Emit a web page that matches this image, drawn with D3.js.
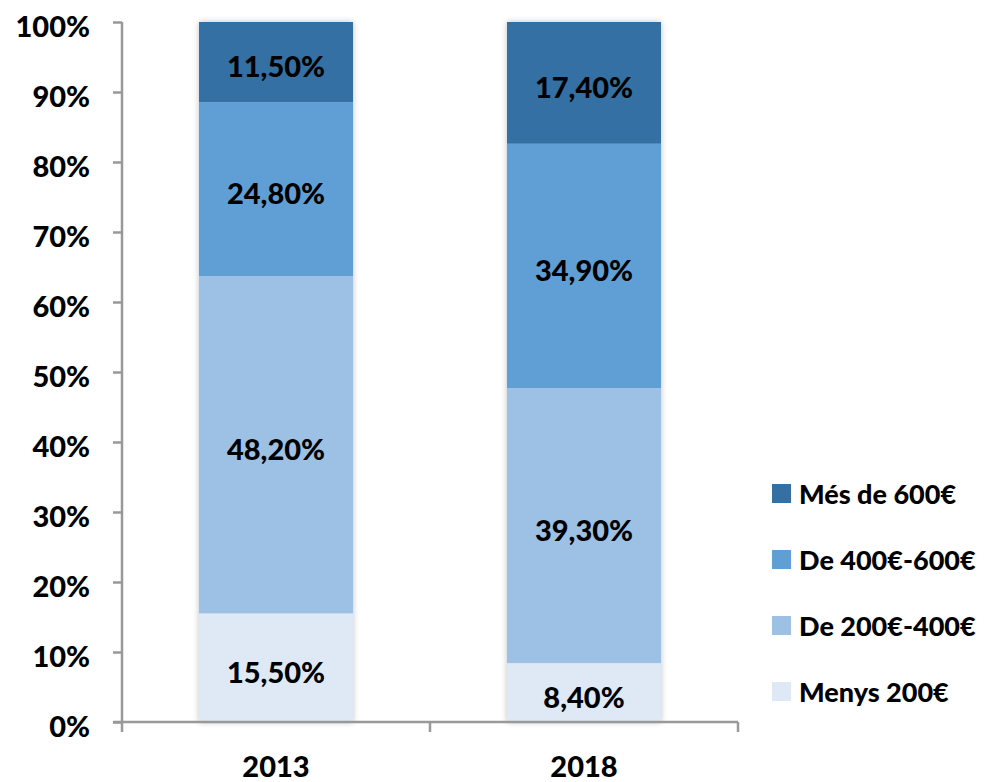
<!DOCTYPE html>
<html>
<head>
<meta charset="utf-8">
<script src="https://cdn.jsdelivr.net/npm/d3@7"></script>
<style>
  body { margin: 0; background: #fff; }
  svg text { font-family: Lato, "Open Sans", sans-serif; font-weight: 900; fill: #000; }
</style>
</head>
<body>
<div id="chart"></div>
<script>
"use strict";
const years = ["2013", "2018"];
const seriesNames = ["Menys 200€", "De 200€-400€", "De 400€-600€", "Més de 600€"];
const menys200 = [15.5, 8.4];
const de200a400 = [48.2, 39.3];
const de400a600 = [24.8, 34.9];
const mes600 = [11.5, 17.4];
const yTicks = [0, 10, 20, 30, 40, 50, 60, 70, 80, 90, 100];
const colors = ["#dee9f5", "#9dc0e5", "#609fd5", "#3470a3"];

const width = 1000, height = 782;
const plotLeft = 122, plotRight = 738, plotTop = 22, plotBottom = 722;

const svg = d3.select("#chart").append("svg")
    .attr("width", width)
    .attr("height", height);

const defs = svg.append("defs");
const shadow = defs.append("filter").attr("id", "glow")
    .attr("x", "-10%").attr("y", "-5%").attr("width", "120%").attr("height", "110%");
shadow.append("feGaussianBlur").attr("in", "SourceAlpha").attr("stdDeviation", 3).attr("result", "b");
shadow.append("feComponentTransfer").attr("in", "b").attr("result", "c")
    .append("feFuncA").attr("type", "linear").attr("slope", 0.25);
const merge = shadow.append("feMerge");
merge.append("feMergeNode").attr("in", "c");
merge.append("feMergeNode").attr("in", "SourceGraphic");

const x = d3.scaleBand().domain(years).range([plotLeft, plotRight]).paddingInner(0.5).paddingOuter(0.25);
const y = d3.scaleLinear().domain([0, 100]).range([plotBottom, plotTop]);

const rows = years.map((yr, i) => ({
    year: yr,
    "Menys 200€": menys200[i],
    "De 200€-400€": de200a400[i],
    "De 400€-600€": de400a600[i],
    "Més de 600€": mes600[i]
}));
const stacked = d3.stack().keys(seriesNames)(rows);

const fmt = v => v.toFixed(2).replace(".", ",") + "%";

// bars
const barGroup = svg.append("g");
years.forEach((yr) => {
    barGroup.append("rect")
        .attr("x", x(yr)).attr("y", y(100))
        .attr("width", x.bandwidth()).attr("height", y(0) - y(100))
        .attr("fill", "#fff")
        .attr("filter", "url(#glow)");
});
stacked.forEach((layer, k) => {
    barGroup.selectAll(null)
        .data(layer)
        .enter()
        .append("rect")
        .attr("x", d => x(d.data.year))
        .attr("y", d => y(d[1]))
        .attr("width", x.bandwidth())
        .attr("height", d => y(d[0]) - y(d[1]))
        .attr("fill", colors[k]);
    barGroup.selectAll(null)
        .data(layer)
        .enter()
        .append("text")
        .attr("x", d => x(d.data.year) + x.bandwidth() / 2)
        .attr("y", d => y((d[0] + d[1]) / 2))
        .attr("dy", "0.52em")
        .attr("text-anchor", "middle")
        .style("font-size", "29px")
        .text(d => fmt(d[1] - d[0]));
});

// axes
const axisColor = "#999";
const yAxis = svg.append("g")
    .attr("transform", `translate(${plotLeft},0)`)
    .call(d3.axisLeft(y).tickValues(yTicks).tickSize(9).tickPadding(23).tickFormat(d => d + "%"));
yAxis.attr("font-family", null).attr("font-size", null);
yAxis.select(".domain").attr("stroke", axisColor).attr("stroke-width", 2.5).attr("d", `M0,${plotTop}V${plotBottom}`);
yAxis.selectAll(".tick line").attr("stroke", axisColor).attr("stroke-width", 2.5);
yAxis.selectAll(".tick text").style("font-size", "29px").attr("dy", "0.5em");

svg.append("line")
    .attr("x1", plotLeft - 9).attr("x2", plotRight)
    .attr("y1", plotBottom).attr("y2", plotBottom)
    .attr("stroke", axisColor).attr("stroke-width", 2.5);
[plotLeft, (plotLeft + plotRight) / 2, plotRight].forEach(px => {
    svg.append("line")
        .attr("x1", px).attr("x2", px)
        .attr("y1", plotBottom).attr("y2", plotBottom + 10)
        .attr("stroke", axisColor).attr("stroke-width", 2.5);
});
svg.selectAll(".year")
    .data(years)
    .enter()
    .append("text")
    .attr("class", "year")
    .attr("x", d => x(d) + x.bandwidth() / 2)
    .attr("y", 777)
    .attr("text-anchor", "middle")
    .style("font-size", "29px")
    .text(d => d);

// legend
const legendOrder = seriesNames.slice().reverse();
const legend = svg.append("g");
legendOrder.forEach((name, i) => {
    const cy = 493 + i * 66;
    legend.append("rect")
        .attr("x", 772).attr("y", cy - 9)
        .attr("width", 19).attr("height", 19)
        .attr("fill", colors[seriesNames.indexOf(name)]);
    legend.append("text")
        .attr("x", 799).attr("y", cy)
        .attr("dy", "0.4em")
        .style("font-size", "27px")
        .text(name);
});
</script>
</body>
</html>
